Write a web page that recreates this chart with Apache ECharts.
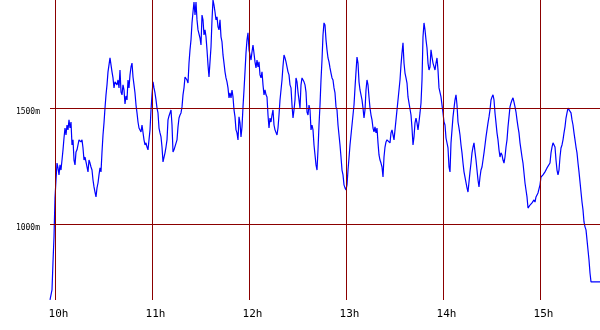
<!DOCTYPE html>
<html>
<head>
<meta charset="utf-8">
<script src="https://cdn.jsdelivr.net/npm/echarts@6/dist/echarts.min.js"></script>
<style>html,body{margin:0;padding:0;background:#fff}#c{width:600px;height:330px}</style>
</head>
<body>
<div id="c"></div>
<script>
// Altitude (m) sampled at a fixed interval, starting shortly before 10h
const startHour = 10 - 5 / 97;      // first sample time (hours)
const sampleStepHours = 1 / 97;     // logger sample interval (hours)
const altitude = [
  674, 674, 717, 838, 945, 1114, 1191, 1264, 1243, 1213, 1256, 1234, 1277, 1321, 1372, 1415, 1385, 1428, 1407, 1450,
  1415, 1441, 1342, 1364, 1277, 1256, 1312, 1321, 1342, 1364, 1372, 1355, 1364, 1329, 1277, 1290, 1269, 1277, 1226, 1277,
  1264, 1247, 1234, 1191, 1161, 1139, 1118, 1157, 1178, 1213, 1243, 1226, 1312, 1385, 1437, 1501, 1558, 1601, 1657, 1687,
  1717, 1687, 1657, 1631, 1588, 1614, 1622, 1601, 1622, 1588, 1665, 1570, 1558, 1601, 1579, 1519, 1553, 1536, 1622, 1588,
  1644, 1678, 1695, 1635, 1601, 1566, 1514, 1480, 1441, 1415, 1420, 1398, 1428, 1428, 1364, 1342, 1351, 1333, 1321, 1364,
  1407, 1493, 1558, 1614, 1588, 1566, 1536, 1501, 1480, 1415, 1394, 1377, 1333, 1269, 1269, 1308, 1333, 1364, 1450, 1467,
  1480, 1493, 1428, 1312, 1321, 1325, 1329, 1364, 1420, 1458, 1471, 1480, 1506, 1558, 1588, 1635, 1631, 1622, 1609, 1695,
  1752, 1795, 1868, 1915, 1958, 1902, 1958, 1881, 1838, 1838, 1803, 1773, 1902, 1881, 1816, 1838, 1808, 1752, 1687, 1635,
  1700, 1764, 1881, 1967, 1945, 1915, 1881, 1894, 1851, 1838, 1881, 1808, 1786, 1730, 1695, 1657, 1631, 1614, 1588, 1545,
  1566, 1545, 1579, 1549, 1493, 1463, 1407, 1394, 1364, 1463, 1437, 1377, 1420, 1506, 1579, 1657, 1739, 1795, 1825, 1752,
  1730, 1708, 1743, 1773, 1773, 1700, 1674, 1708, 1678, 1700, 1644, 1631, 1657, 1601, 1558, 1579, 1558, 1549, 1471, 1415,
  1458, 1441, 1471, 1493, 1428, 1407, 1415, 1385, 1415, 1471, 1536, 1579, 1622, 1682, 1730, 1717, 1700, 1708, 1657, 1644,
  1601, 1588, 1514, 1458, 1493, 1536, 1631, 1614, 1570, 1536, 1501, 1601, 1631, 1635, 1614, 1601, 1570, 1484, 1471, 1514,
  1493, 1407, 1428, 1407, 1342, 1299, 1256, 1234, 1321, 1428, 1514, 1622, 1708, 1816, 1868, 1859, 1795, 1752, 1717, 1700,
  1674, 1652, 1631, 1622, 1588, 1566, 1506, 1493, 1428, 1420, 1342, 1290, 1234, 1213, 1170, 1157, 1148, 1170, 1234, 1286,
  1342, 1385, 1428, 1471, 1514, 1588, 1657, 1721, 1695, 1614, 1579, 1558, 1536, 1501, 1458, 1493, 1579, 1622, 1601, 1549,
  1501, 1471, 1450, 1415, 1398, 1420, 1394, 1415, 1351, 1299, 1277, 1264, 1247, 1204, 1290, 1333, 1355, 1364, 1364, 1364,
  1351, 1394, 1407, 1385, 1364, 1372, 1450, 1493, 1536, 1579, 1622, 1687, 1739, 1782, 1695, 1652, 1631, 1609, 1549, 1545,
  1549, 1471, 1415, 1342, 1377, 1437, 1458, 1437, 1407, 1441, 1480, 1523, 1622, 1808, 1868, 1838, 1795, 1760, 1695, 1665,
  1678, 1752, 1721, 1695, 1695, 1665, 1695, 1717, 1665, 1588, 1592, 1549, 1514, 1480, 1441, 1428, 1372, 1364, 1329, 1247,
  1226, 1351, 1407, 1463, 1501, 1536, 1558, 1514, 1441, 1415, 1385, 1342, 1308, 1264, 1226, 1221, 1226, 1157, 1139, 1183,
  1226, 1264, 1308, 1333, 1351, 1312, 1277, 1234, 1191, 1161, 1204, 1234, 1247, 1277, 1308, 1342, 1377, 1385, 1437, 1463,
  1493, 1536, 1549, 1558, 1536, 1480, 1437, 1394, 1364, 1321, 1290, 1308, 1299, 1277, 1264, 1290, 1333, 1364, 1420, 1463,
  1506, 1523, 1536, 1545, 1527, 1506, 1484, 1450, 1420, 1394, 1351, 1321, 1290, 1264, 1221, 1178, 1148, 1118, 1070, 1075,
  1083, 1083, 1092, 1092, 1105, 1096, 1118, 1118, 1135, 1139, 1170, 1204, 1204, 1213, 1221, 1226, 1234, 1243, 1243, 1243,
  1264, 1308, 1333, 1351, 1351, 1333, 1277, 1234, 1213, 1234, 1290, 1329, 1342, 1364, 1394, 1420, 1458, 1480, 1501, 1493,
  1501, 1480, 1450, 1428, 1394, 1364, 1333, 1308, 1264, 1226, 1183, 1139, 1096, 1062, 1010, 989, 976, 933, 889, 846,
  790, 752, 752, 752, 752, 752, 752, 752, 752, 752, 752
];
const hourTicks = [10, 11, 12, 13, 14, 15];
const hourLabels = ['10h', '11h', '12h', '13h', '14h', '15h'];
const altitudeTicks = [1000, 1500];
const altitudeLabels = ['1000m', '1500m'];

const points = altitude.map((v, i) => [startHour + i * sampleStepHours, v]);
const xMin = startHour;
const xMax = startHour + (altitude.length - 1) * sampleStepHours;

const chart = echarts.init(document.getElementById('c'), null, { renderer: 'canvas' });
const gridColor = '#8B0000';
chart.setOption({
  animation: false,
  backgroundColor: '#ffffff',
  grid: { left: 50, right: 0, top: 0, bottom: 30, containLabel: false },
  xAxis: {
    type: 'value', min: xMin, max: xMax,
    axisLine: { show: false }, axisTick: { show: false }, splitLine: { show: false },
    axisLabel: {
      customValues: hourTicks,
      formatter: v => hourLabels[hourTicks.indexOf(Math.round(v))] || '',
      fontFamily: 'DejaVu Sans Mono', fontSize: 11, color: '#000',
      margin: 9, padding: [0, 0, 0, 7]
    }
  },
  yAxis: {
    type: 'value', min: 673.7, max: 1966.8,
    axisLine: { show: false }, axisTick: { show: false }, splitLine: { show: false },
    axisLabel: {
      customValues: altitudeTicks,
      formatter: v => altitudeLabels[altitudeTicks.indexOf(Math.round(v))] || '',
      fontFamily: 'DejaVu Sans Mono', fontSize: 8, color: '#000',
      margin: 10, verticalAlign: 'top'
    }
  },
  series: [
    {
      type: 'line', data: [], z: 1, silent: true,
      markLine: {
        silent: true, symbol: 'none', label: { show: false }, animation: false,
        lineStyle: { color: gridColor, width: 1, type: 'solid' },
        emphasis: { disabled: true },
        data: hourTicks.map(h => ({ xAxis: h })).concat(altitudeTicks.map(a => ({ yAxis: a })))
      }
    },
    {
      type: 'line', data: points, z: 3, showSymbol: false, symbol: 'none',
      lineStyle: { color: '#0000ff', width: 1.2 }, silent: true
    }
  ]
});
</script>
</body>
</html>
